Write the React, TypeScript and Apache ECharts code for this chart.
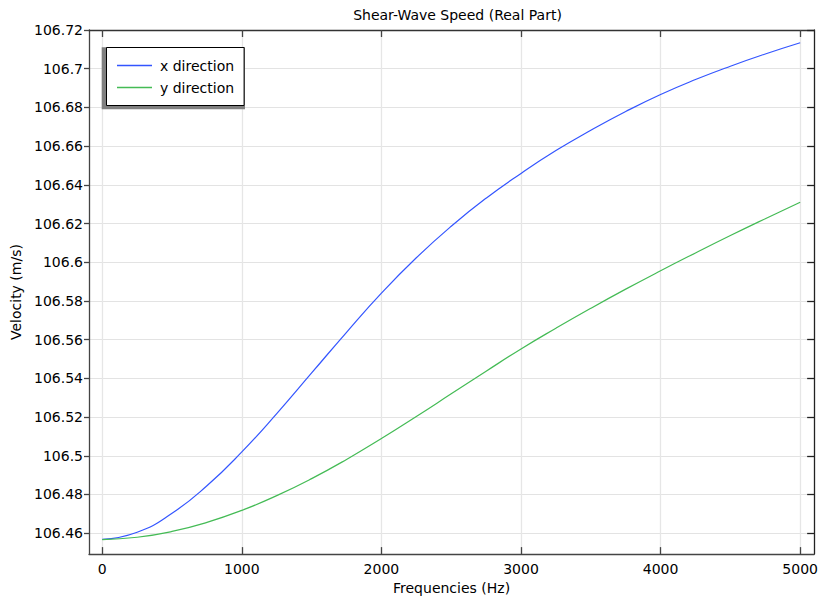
import React, { useEffect, useRef } from "react";
import * as echarts from "echarts";

const frequencies = [0, 250, 500, 750, 1000, 1250, 1500, 1750, 2000, 2250, 2500, 2750, 3000, 3250, 3500, 3750, 4000, 4250, 4500, 4750, 5000];
const xDirection = [106.4568, 106.4605, 106.4703, 106.4845, 106.502, 106.5218, 106.5428, 106.5638, 106.584, 106.6023, 106.6186, 106.6331, 106.6459, 106.6577, 106.6682, 106.6779, 106.6867, 106.6944, 106.7013, 106.7076, 106.7134];
const yDirection = [106.4567, 106.4579, 106.4609, 106.4656, 106.4718, 106.4794, 106.4882, 106.4981, 106.5089, 106.5203, 106.532, 106.5437, 106.5552, 106.5659, 106.5762, 106.5861, 106.5956, 106.6048, 106.6138, 106.6225, 106.631];
const xTicks = [0, 1000, 2000, 3000, 4000, 5000];
const yTicks = [106.46, 106.48, 106.5, 106.52, 106.54, 106.56, 106.58, 106.6, 106.62, 106.64, 106.66, 106.68, 106.7, 106.72];
const seriesNames = ["x direction", "y direction"];

const FONT = "DejaVu Sans";

export default function App() {
  const ref = useRef<HTMLDivElement>(null);
  useEffect(() => {
    if (!ref.current) return;
    const chart = echarts.init(ref.current, undefined, { renderer: "svg" });
    const xMin = -95;
    const xMax = 5100;
    const yMin = 106.4492;
    const yMax = 106.72;
    const textStyle = { fontFamily: FONT, fontSize: 14, color: "#000" };
    chart.setOption({
      animation: false,
      backgroundColor: "#fff",
      textStyle: { fontFamily: FONT },
      title: {
        text: "Shear-Wave Speed (Real Part)",
        left: 452.5,
        textAlign: "center",
        top: 3,
        textStyle: { ...textStyle, fontWeight: "normal" },
      },
      grid: { left: 89, right: 5, top: 30, bottom: 43, containLabel: false },
      legend: {
        orient: "vertical",
        left: 106.5,
        top: 47.5,
        width: 138,
        padding: [11, 10, 11, 10.5],
        itemGap: 8,
        itemWidth: 35,
        itemHeight: 1.5,
        icon: "rect",
        backgroundColor: "#fff",
        borderColor: "#000",
        borderWidth: 1,
        z: 10,
        textStyle: { ...textStyle, padding: [0, 0, 0, 3], lineHeight: 14 },
        data: seriesNames,
      },
      graphic: [
        {
          type: "rect",
          z: 5,
          shape: { x: 101.7, y: 47.3, width: 143.3, height: 62 },
          style: { fill: "#808080" },
        },
      ],
      xAxis: [
        {
          type: "value",
          min: xMin,
          max: xMax,
          name: "Frequencies (Hz)",
          nameLocation: "middle",
          nameGap: 24,
          nameTextStyle: textStyle,
          axisLine: { onZero: false, lineStyle: { color: "#444", width: 1.3 } },
          axisTick: { inside: true, length: 7, customValues: xTicks, lineStyle: { color: "#444", width: 1.3 } },
          axisLabel: {
            ...textStyle,
            margin: 8,
            customValues: xTicks,
            formatter: (v: number) => String(Math.round(v)),
          },
          splitLine: { show: true, lineStyle: { color: "#e6e6e6", width: 1.3 } },
        },
        {
          type: "value",
          position: "top",
          min: xMin,
          max: xMax,
          axisLine: { onZero: false, lineStyle: { color: "#333", width: 1.3 } },
          axisTick: { inside: true, length: 7, customValues: xTicks, lineStyle: { color: "#444", width: 1.3 } },
          axisLabel: { show: false },
          splitLine: { show: false },
        },
      ],
      yAxis: [
        {
          type: "value",
          min: yMin,
          max: yMax,
          name: "Velocity (m/s)",
          nameLocation: "middle",
          nameGap: 63,
          nameTextStyle: textStyle,
          axisLine: { onZero: false, lineStyle: { color: "#444", width: 1.3 } },
          axisTick: { inside: false, length: 5, customValues: yTicks, lineStyle: { color: "#444", width: 1.3 } },
          axisLabel: {
            ...textStyle,
            margin: 6,
            customValues: yTicks,
            formatter: (v: number) => String(parseFloat(v.toFixed(2))),
          },
          splitLine: { show: true, lineStyle: { color: "#e3e3e3", width: 1 } },
        },
        {
          type: "value",
          position: "right",
          min: yMin,
          max: yMax,
          axisLine: { onZero: false, lineStyle: { color: "#222", width: 1.3 } },
          axisTick: { inside: true, length: 7, customValues: yTicks, lineStyle: { color: "#222", width: 1.3 } },
          axisLabel: { show: false },
          splitLine: { show: false },
        },
      ],
      series: [
        {
          name: seriesNames[0],
          type: "line",
          smooth: true,
          showSymbol: false,
          symbol: "none",
          color: "#3355ff",
          lineStyle: { color: "#3355ff", width: 1.2 },
          data: frequencies.map((f, i) => [f, xDirection[i]]),
        },
        {
          name: seriesNames[1],
          type: "line",
          smooth: true,
          showSymbol: false,
          symbol: "none",
          color: "#44bb55",
          lineStyle: { color: "#44bb55", width: 1.2 },
          data: frequencies.map((f, i) => [f, yDirection[i]]),
        },
      ],
    });
    return () => chart.dispose();
  }, []);
  return (
    <div
      ref={ref}
      style={{ position: "fixed", left: 0, top: 0, width: 821, height: 600 }}
    />
  );
}
